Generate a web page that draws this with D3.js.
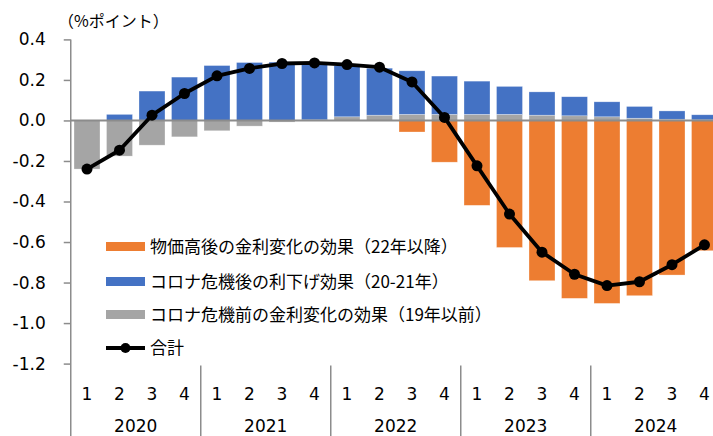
<!DOCTYPE html>
<html><head><meta charset="utf-8">
<script src="https://cdn.jsdelivr.net/npm/d3@7"></script>
<style>
html,body{margin:0;padding:0;background:#fff;overflow:hidden;}
svg{display:block;}
</style></head>
<body>
<svg id="chart" width="713" height="436"></svg>
<script>
// ---- data ----
const quarters = ["1","2","3","4","1","2","3","4","1","2","3","4","1","2","3","4","1","2","3","4"];
const years = ["2020","2021","2022","2023","2024"];
const preCovid = [-0.240,-0.176,-0.122,-0.081,-0.051,-0.028,-0.008,0.003,0.018,0.026,0.030,0.030,0.030,0.030,0.026,0.023,0.018,0.011,0.006,0.003];
const postCovid = [0.000,0.030,0.145,0.214,0.271,0.286,0.288,0.278,0.252,0.232,0.215,0.189,0.164,0.138,0.115,0.094,0.074,0.058,0.041,0.025];
const postInflation = [0,0,0,0,0,0,0,0,0,0,-0.057,-0.206,-0.419,-0.627,-0.791,-0.878,-0.903,-0.865,-0.763,-0.643];
const total = [-0.240,-0.147,0.026,0.133,0.220,0.257,0.281,0.284,0.276,0.263,0.190,0.015,-0.224,-0.462,-0.650,-0.759,-0.815,-0.796,-0.712,-0.614];
const yTicks = [0.4,0.2,0.0,-0.2,-0.4,-0.6,-0.8,-1.0,-1.2];
const seriesNames = {
  pre: "コロナ危機前の金利変化の効果（19年以前）",
  post: "コロナ危機後の利下げ効果（20-21年）",
  infl: "物価高後の金利変化の効果（22年以降）",
  total: "合計"
};
const unitLabel = "（%ポイント）";

// ---- layout ----
const colors = {pre:"#A5A5A5", post:"#4472C4", infl:"#ED7D31", axis:"#8C8C8C"};
const svg = d3.select("#chart");
const mLeft = 70.75, mRight = 720.75, mTop = 39.4, mBottom = 363.6;
const numFont = "'DejaVu Sans', Verdana, sans-serif";
const jpFont = "'Noto Sans CJK JP', sans-serif";

const idx = d3.range(quarters.length);
const x = d3.scaleBand().domain(idx).range([mLeft, mRight]).paddingInner(0.2).paddingOuter(0.1);
const y = d3.scaleLinear().domain([-1.2, 0.4]).range([mBottom, mTop]);

const table = idx.map(i => ({i, pre: preCovid[i], post: postCovid[i], infl: postInflation[i]}));
const stack = d3.stack().keys(["pre","post","infl"]).offset(d3.stackOffsetDiverging);
const stacked = stack(table);

// bars
svg.append("g").selectAll("g").data(stacked).join("g")
  .attr("fill", d => colors[d.key])
  .selectAll("rect").data(d => d).join("rect")
  .attr("x", d => x(d.data.i))
  .attr("width", x.bandwidth())
  .attr("y", d => y(Math.max(d[0], d[1])))
  .attr("height", d => Math.abs(y(d[0]) - y(d[1])))
  .attr("stroke", "#ffffff").attr("stroke-opacity", 0.5).attr("stroke-width", 0.6);

// zero line
svg.append("line").attr("x1", mLeft).attr("x2", 713).attr("y1", y(0)).attr("y2", y(0))
  .attr("stroke", colors.axis).attr("stroke-width", 2);

// y axis
const yAxis = d3.axisLeft(y).tickValues(yTicks).tickSize(7).tickFormat(d => d3.format(".1f")(d).replace("−","-"));
const ga = svg.append("g").attr("transform", `translate(${mLeft},0)`).call(yAxis);
ga.select(".domain").remove();
ga.selectAll(".tick line").attr("stroke", colors.axis).attr("stroke-width", 1.5);
ga.selectAll(".tick text").attr("font-family", numFont).attr("font-size", 17).attr("fill", "#000")
  .attr("x", -25);
svg.append("line").attr("x1", mLeft).attr("x2", mLeft).attr("y1", mTop).attr("y2", 436)
  .attr("stroke", colors.axis).attr("stroke-width", 1.5);

// category separators
years.forEach((yr, k) => {
  const x0 = x(k*4) - x.step()*x.paddingInner()/2;
  const x1 = x(k*4+3) + x.bandwidth() + x.step()*x.paddingInner()/2;
  if (k > 0) svg.append("line").attr("x1", x0).attr("x2", x0).attr("y1", mBottom+2).attr("y2", 436)
    .attr("stroke", colors.axis).attr("stroke-width", 1.5);
  svg.append("text").attr("x", (x0+x1)/2).attr("y", 431.5).attr("text-anchor","middle")
    .attr("font-family", numFont).attr("font-size", 17).text(yr);
});
svg.append("g").selectAll("text").data(idx).join("text")
  .attr("x", i => x(i) + x.bandwidth()/2).attr("y", 400).attr("text-anchor","middle")
  .attr("font-family", numFont).attr("font-size", 17).text(i => quarters[i]);

// total line
const line = d3.line().x((d,i) => x(i) + x.bandwidth()/2).y(d => y(d));
svg.append("path").datum(total).attr("d", line).attr("fill","none")
  .attr("stroke","#000").attr("stroke-width", 3.8).attr("stroke-linejoin","round");
svg.append("g").selectAll("circle").data(total).join("circle")
  .attr("cx", (d,i) => x(i) + x.bandwidth()/2).attr("cy", d => y(d)).attr("r", 5.5).attr("fill","#000");

// unit label
svg.append("text").attr("x", 58).attr("y", 26.5).attr("font-family", jpFont).attr("font-size", 16).text(unitLabel);

// legend
const legend = [
  {key:"infl", y:246.5},
  {key:"post", y:281.5},
  {key:"pre", y:314.5},
  {key:"total", y:348}
];
const lg = svg.append("g");
legend.forEach(l => {
  if (l.key === "total") {
    lg.append("line").attr("x1",106).attr("x2",145).attr("y1",l.y).attr("y2",l.y).attr("stroke","#000").attr("stroke-width",4);
    lg.append("circle").attr("cx",125.5).attr("cy",l.y).attr("r",5).attr("fill","#000");
  } else {
    lg.append("rect").attr("x",106).attr("y",l.y-4.5).attr("width",39).attr("height",9).attr("fill",colors[l.key]);
  }
  lg.append("text").attr("x",150).attr("y",l.y).attr("dy","0.36em").attr("font-family",jpFont).attr("font-size",17).text(seriesNames[l.key]);
});
</script>
</body></html>
